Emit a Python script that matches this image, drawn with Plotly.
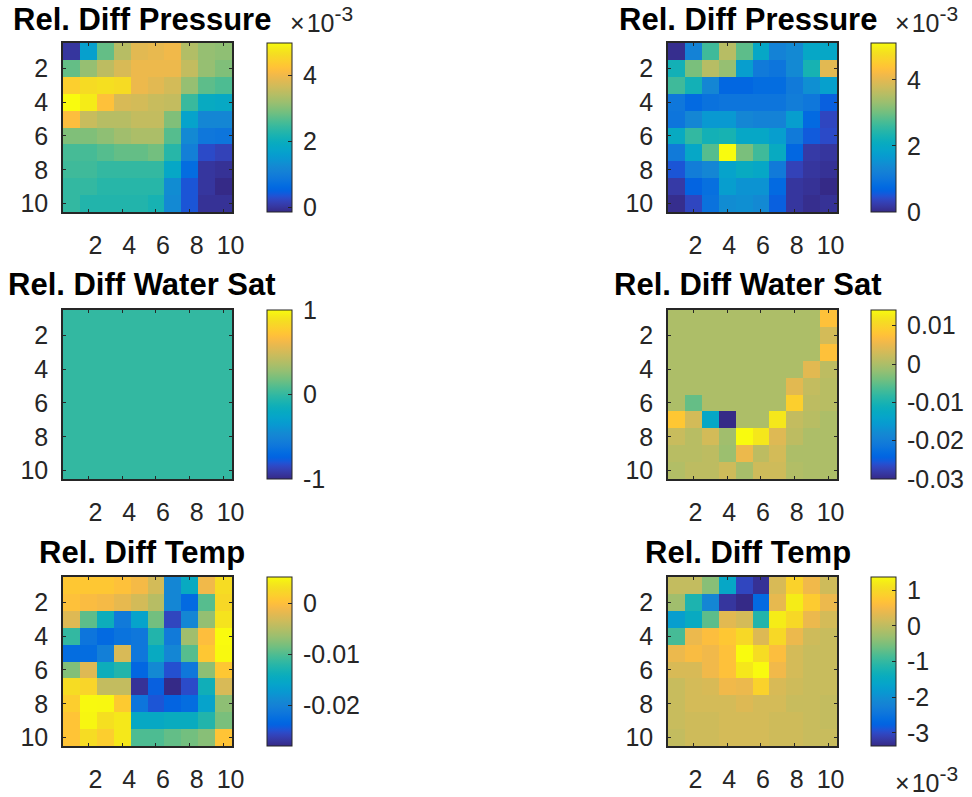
import plotly.graph_objects as go

# ---------------------------------------------------------------------------
# Relative differences on a 10x10 grid (rows = i, columns = j)
# ---------------------------------------------------------------------------
grid_index = list(range(1, 11))

# Pressure, case A (units of 1e-3)
pressure_a = [
    [0.00, 1.64, 2.77, 3.43, 3.84, 3.90, 4.00, 3.38, 3.13, 3.08],
    [2.77, 3.13, 3.48, 3.74, 3.95, 3.95, 3.95, 3.54, 3.13, 2.97],
    [4.41, 4.61, 4.66, 4.61, 3.95, 3.84, 3.69, 3.13, 2.72, 2.61],
    [4.97, 4.82, 4.20, 3.74, 3.69, 3.59, 3.54, 2.46, 1.90, 1.85],
    [4.15, 3.59, 3.43, 3.43, 3.54, 3.54, 2.97, 1.69, 1.18, 1.18],
    [2.97, 2.97, 3.08, 3.23, 3.33, 3.33, 2.67, 1.23, 0.87, 0.82],
    [2.56, 2.56, 2.67, 2.77, 2.77, 2.87, 2.31, 1.03, 0.26, 0.16],
    [2.51, 2.51, 2.41, 2.41, 2.41, 2.41, 1.80, 0.67, 0.00, -0.05],
    [2.41, 2.41, 2.31, 2.31, 2.31, 2.31, 1.28, 0.36, 0.00, -0.15],
    [2.41, 2.26, 2.26, 2.26, 2.26, 2.15, 1.23, 0.36, -0.05, -0.05],
]

# Pressure, case B (units of 1e-3)
pressure_b = [
    [0.05, 1.23, 2.66, 3.58, 2.87, 1.95, 1.23, 1.38, 1.95, 1.95],
    [2.25, 3.07, 3.58, 3.28, 1.74, 1.08, 0.97, 1.38, 2.30, 3.99],
    [2.66, 2.25, 1.33, 0.72, 0.72, 0.82, 0.82, 1.08, 1.48, 1.79],
    [1.02, 0.77, 0.92, 0.97, 0.97, 0.97, 0.97, 1.13, 1.02, 0.61],
    [0.97, 1.33, 1.64, 1.64, 1.33, 1.23, 1.23, 1.74, 0.77, 0.36],
    [2.05, 2.56, 2.25, 2.30, 1.95, 1.95, 1.74, 1.08, 0.56, 0.41],
    [1.08, 1.95, 2.82, 5.12, 3.07, 2.66, 2.05, 0.72, 0.20, 0.15],
    [0.51, 1.13, 1.33, 1.84, 2.05, 1.95, 1.08, 0.31, 0.15, 0.10],
    [0.20, 0.67, 0.87, 1.74, 1.54, 1.54, 0.77, 0.15, 0.10, 0.00],
    [0.05, 0.36, 0.92, 1.43, 1.48, 1.38, 0.61, 0.15, 0.05, 0.10],
]

# Water saturation, case A (identical fields)
water_sat_a = [[0.0] * 10 for _ in range(10)]

# Water saturation, case B
water_sat_b = [
    [0, 0, 0, 0, 0, 0, 0, 0, 0, 0.0075],
    [0, 0, 0, 0, 0, 0, 0, 0, 0, 0.0031],
    [0, 0, 0, 0, 0, 0, 0, 0, 0, 0.0075],
    [0, 0, 0, 0, 0, 0, 0, 0, 0.0044, 0.0013],
    [0, 0, 0, 0, 0, 0, 0, 0.0044, 0.0018, 0.0009],
    [0, -0.0048, 0, 0, 0, 0, 0, 0.0093, 0.0013, 0.0009],
    [0.0084, 0.0031, -0.0132, -0.0300, 0, 0, 0.0123, 0.0018, 0.0009, 0],
    [0.0022, 0.0009, 0.0031, -0.0009, 0.0141, 0.0123, 0.0040, 0.0013, 0, 0],
    [0.0009, 0.0009, 0.0013, -0.0013, 0.0053, 0.0013, 0.0031, 0, 0, 0],
    [0.0004, 0.0013, 0.0013, 0.0027, -0.0004, 0.0027, 0.0027, 0.0004, 0, 0],
]

# Temperature, case A
temp_a = [
    [0.0009, 0.0009, 0.0009, 0.0002, -0.0008, -0.0031, -0.0194, -0.0147, -0.0011, 0.0029],
    [0.0002, -0.0004, -0.0008, -0.0018, -0.0031, -0.0048, -0.0194, -0.0230, -0.0097, 0.0025],
    [-0.0024, -0.0094, -0.0140, -0.0210, -0.0160, -0.0084, -0.0257, -0.0194, -0.0068, 0.0035],
    [-0.0114, -0.0217, -0.0230, -0.0220, -0.0214, -0.0124, -0.0210, -0.0061, -0.0001, 0.0052],
    [-0.0227, -0.0227, -0.0204, -0.0028, -0.0214, -0.0147, -0.0194, -0.0097, 0.0009, 0.0051],
    [-0.0077, -0.0024, -0.0140, -0.0124, -0.0234, -0.0190, -0.0250, -0.0214, -0.0071, 0.0009],
    [0.0029, 0.0022, -0.0041, -0.0041, -0.0273, -0.0240, -0.0280, -0.0253, -0.0137, -0.0028],
    [0.0015, 0.0051, 0.0050, 0.0012, -0.0217, -0.0247, -0.0237, -0.0227, -0.0160, -0.0071],
    [0.0006, 0.0049, 0.0032, 0.0039, -0.0150, -0.0150, -0.0144, -0.0144, -0.0124, -0.0081],
    [0.0006, 0.0029, 0.0015, 0.0039, -0.0101, -0.0101, -0.0091, -0.0084, -0.0074, 0.0006],
]

# Temperature, case B (units of 1e-3)
temp_b = [
    [0.04, 0.04, -0.43, -1.57, -3.04, -3.28, 0.23, 0.90, 0.47, 0.14],
    [-0.24, -1.19, -2.14, -3.23, -3.37, -2.66, 0.37, 1.23, 0.80, 0.42],
    [-1.76, -1.47, -0.72, 0.33, 0.19, -1.14, 1.23, 0.99, 0.42, 0.19],
    [-0.86, 0.42, 0.61, 0.75, 0.99, 0.28, 0.99, 0.42, 0.14, 0.09],
    [0.42, 0.56, 0.47, 0.66, 1.37, 1.04, 0.61, 0.19, 0.09, 0.09],
    [0.23, 0.23, 0.47, 0.66, 1.18, 1.36, 0.47, 0.19, 0.09, 0.09],
    [0.09, 0.19, 0.23, 0.47, 0.42, 0.90, 0.23, 0.14, 0.09, 0.09],
    [0.09, 0.19, 0.19, 0.19, 0.28, 0.19, 0.19, 0.09, 0.09, 0.04],
    [0.09, 0.14, 0.14, 0.19, 0.19, 0.19, 0.14, 0.14, 0.09, 0.04],
    [0.04, 0.14, 0.14, 0.19, 0.19, 0.19, 0.14, 0.14, 0.09, 0.09],
]

axis_ticks = [2, 4, 6, 8, 10]

pressure_cb_ticks = [0, 2, 4]
water_a_cb_ticks = [-1, 0, 1]
water_b_cb_ticks = [-0.03, -0.02, -0.01, 0, 0.01]
temp_a_cb_ticks = [-0.02, -0.01, 0]
temp_b_cb_ticks = [-3, -2, -1, 0, 1]

titles = ["Rel. Diff Pressure", "Rel. Diff Pressure",
          "Rel. Diff Water Sat", "Rel. Diff Water Sat",
          "Rel. Diff Temp", "Rel. Diff Temp"]

# ---------------------------------------------------------------------------
# Parula colour map (64 levels)
# ---------------------------------------------------------------------------
PARULA = [
    (0.2081, 0.1663, 0.5292), (0.2116, 0.1898, 0.5777), (0.2123, 0.2138, 0.6270),
    (0.2081, 0.2386, 0.6771), (0.1959, 0.2645, 0.7279), (0.1707, 0.2919, 0.7792),
    (0.1253, 0.3242, 0.8303), (0.0591, 0.3598, 0.8683), (0.0117, 0.3875, 0.8820),
    (0.0060, 0.4086, 0.8828), (0.0165, 0.4266, 0.8786), (0.0329, 0.4430, 0.8720),
    (0.0498, 0.4586, 0.8641), (0.0629, 0.4737, 0.8554), (0.0723, 0.4887, 0.8467),
    (0.0779, 0.5040, 0.8384), (0.0793, 0.5200, 0.8312), (0.0749, 0.5375, 0.8263),
    (0.0641, 0.5570, 0.8240), (0.0488, 0.5772, 0.8228), (0.0343, 0.5966, 0.8199),
    (0.0265, 0.6137, 0.8135), (0.0239, 0.6287, 0.8038), (0.0231, 0.6418, 0.7913),
    (0.0228, 0.6535, 0.7768), (0.0267, 0.6642, 0.7607), (0.0384, 0.6743, 0.7436),
    (0.0590, 0.6838, 0.7254), (0.0843, 0.6928, 0.7062), (0.1133, 0.7015, 0.6859),
    (0.1453, 0.7098, 0.6646), (0.1801, 0.7177, 0.6424), (0.2178, 0.7250, 0.6193),
    (0.2586, 0.7317, 0.5954), (0.3022, 0.7376, 0.5712), (0.3482, 0.7424, 0.5473),
    (0.3953, 0.7459, 0.5244), (0.4420, 0.7481, 0.5033), (0.4871, 0.7491, 0.4840),
    (0.5300, 0.7491, 0.4661), (0.5709, 0.7485, 0.4494), (0.6099, 0.7473, 0.4337),
    (0.6473, 0.7456, 0.4188), (0.6834, 0.7435, 0.4044), (0.7184, 0.7411, 0.3905),
    (0.7525, 0.7384, 0.3768), (0.7858, 0.7356, 0.3633), (0.8185, 0.7327, 0.3498),
    (0.8507, 0.7299, 0.3360), (0.8824, 0.7274, 0.3217), (0.9139, 0.7258, 0.3063),
    (0.9450, 0.7261, 0.2886), (0.9739, 0.7314, 0.2666), (0.9938, 0.7455, 0.2403),
    (0.9990, 0.7653, 0.2164), (0.9955, 0.7861, 0.1967), (0.9880, 0.8066, 0.1794),
    (0.9789, 0.8271, 0.1633), (0.9697, 0.8481, 0.1475), (0.9626, 0.8705, 0.1309),
    (0.9589, 0.8949, 0.1132), (0.9598, 0.9218, 0.0948), (0.9661, 0.9514, 0.0755),
    (0.9763, 0.9831, 0.0538),
]
n_levels = len(PARULA)
parula_scale = [
    [i / (n_levels - 1), "rgb(%d,%d,%d)" % tuple(round(c * 255) for c in rgb)]
    for i, rgb in enumerate(PARULA)
]

# ---------------------------------------------------------------------------
# Page geometry (pixels)
# ---------------------------------------------------------------------------
W, H = 972, 797
FONT = "Liberation Sans, Arial, Helvetica, sans-serif"
AXIS_COLOR = "#262626"
TICK_SIZE = 25

col_left = {0: 63, 1: 668}
col_width = 169
row_top = {0: 43, 1: 310, 2: 577}
row_height = 169
cbar_left = {0: 267, 1: 871}
cbar_width = 25
title_cx = {0: 142, 1: 748}
title_cy = {0: 20, 1: 285, 2: 552}
xlabel_shift = {0: 7, 1: 2}


def fx(px):
    return px / W


def fy(py):
    return 1 - py / H


def cb_label(v):
    # thin leading gap between bar and label, ASCII minus sign
    return "\u2009" + ("%g" % v)


panels = [
    (pressure_a, pressure_cb_ticks, 0, 0),
    (pressure_b, pressure_cb_ticks, 0, 1),
    (water_sat_a, water_a_cb_ticks, 1, 0),
    (water_sat_b, water_b_cb_ticks, 1, 1),
    (temp_a, temp_a_cb_ticks, 2, 0),
    (temp_b, temp_b_cb_ticks, 2, 1),
]

fig = go.Figure()
layout_axes = {}
annotations = []

for k, (z, cb_ticks, r, c) in enumerate(panels):
    idx = k + 1
    xa = "x" if idx == 1 else "x%d" % idx
    ya = "y" if idx == 1 else "y%d" % idx

    flat = [v for row in z for v in row]
    lo, hi = min(flat), max(flat)
    if lo == hi:
        lo, hi = lo - 1, hi + 1

    x0 = col_left[c]
    y0 = row_top[r]

    fig.add_trace(go.Heatmap(
        z=z, x=grid_index, y=grid_index,
        xaxis=xa, yaxis=ya,
        colorscale=parula_scale, zmin=lo, zmax=hi,
        hoverinfo="skip",
        colorbar=dict(
            x=fx(cbar_left[c]), xanchor="left", xpad=0,
            y=fy(y0 + row_height), yanchor="bottom", ypad=0,
            len=row_height / H, lenmode="fraction",
            thickness=cbar_width, thicknessmode="pixels",
            outlinewidth=1, outlinecolor=AXIS_COLOR,
            ticks="inside", ticklen=4, tickcolor=AXIS_COLOR, tickwidth=1,
            tickvals=cb_ticks, ticktext=[cb_label(v) for v in cb_ticks],
            tickfont=dict(family=FONT, size=TICK_SIZE, color=AXIS_COLOR),
        ),
    ))

    axis_common = dict(
        tickvals=axis_ticks, ticktext=[str(t) for t in axis_ticks],
        ticks="inside", ticklen=3, tickcolor=AXIS_COLOR, tickwidth=1,
        showline=True, linecolor=AXIS_COLOR, linewidth=1.5, mirror="ticks",
        showgrid=False, zeroline=False,
        tickfont=dict(family=FONT, size=TICK_SIZE, color=AXIS_COLOR),
    )
    layout_axes["xaxis" if idx == 1 else "xaxis%d" % idx] = dict(
        axis_common,
        domain=[fx(x0), fx(x0 + col_width)],
        anchor=ya, range=[0.5, 10.5],
        ticklabelstandoff=10, ticklabelshift=xlabel_shift[c],
    )
    layout_axes["yaxis" if idx == 1 else "yaxis%d" % idx] = dict(
        axis_common,
        domain=[fy(y0 + row_height), fy(y0)],
        anchor=xa, range=[10.5, 0.5],
        ticklabelstandoff=8,
    )

    annotations.append(dict(
        text="<b>%s</b>" % titles[k], xref="paper", yref="paper",
        x=fx(title_cx[c]), y=fy(title_cy[r]), xanchor="center", yanchor="middle",
        showarrow=False, font=dict(family=FONT, size=31, color="#000000"),
    ))

# Exponent labels for the scaled colour bars
exponent_text = ("\u00d7\u200a10<sup><span style='font-size:21px'>-3</span></sup>")
for px, py in [(288, 20), (893, 20), (893, 779)]:
    annotations.append(dict(
        text=exponent_text, xref="paper", yref="paper",
        x=fx(px), y=fy(py), xanchor="left", yanchor="middle",
        showarrow=False, font=dict(family=FONT, size=TICK_SIZE, color=AXIS_COLOR),
    ))

fig.update_layout(
    width=W, height=H, autosize=False,
    margin=dict(l=0, r=0, t=0, b=0, autoexpand=False),
    paper_bgcolor="white", plot_bgcolor="white",
    annotations=annotations,
    **layout_axes,
)

fig.write_html("out.html")
